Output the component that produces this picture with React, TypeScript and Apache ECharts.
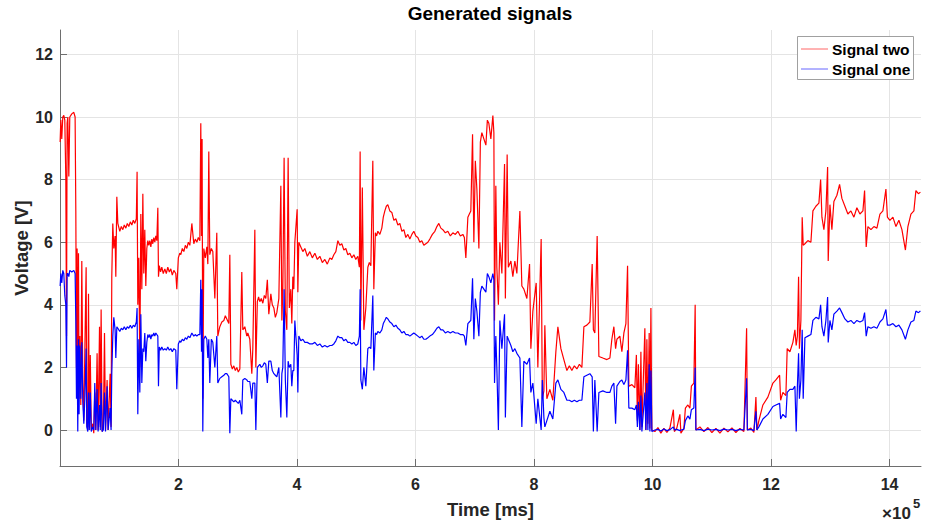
import React, { useEffect, useRef } from "react";
import * as echarts from "echarts";

const TIME_MS = [
  200, 1400, 3000, 4700, 6400, 8100, 9800, 11000, 12000, 13200,
  14900, 16500, 19900, 23300, 25500, 26700, 27800, 28900, 30000, 31200,
  32200, 33400, 35100, 36800, 38500, 40200, 41900, 44100, 45200, 46900,
  48100, 49500, 51100, 52800, 55400, 57000, 58700, 60400, 62600, 64300,
  66700, 68000, 69400, 71100, 73100, 75100, 76800, 79500, 81200, 84600,
  86200, 87400, 89100, 90800, 93000, 94200, 95900, 97600, 100900, 103500,
  106000, 108500, 111100, 113600, 116100, 118700, 121200, 123700, 126200, 128800,
  130100, 131300, 133000, 134700, 136400, 138100, 139800, 141400, 143100, 144800,
  146500, 148200, 149900, 151600, 153300, 155000, 156600, 158300, 160000, 161700,
  163400, 165100, 166200, 167600, 169700, 171800, 174300, 176900, 179400, 181900,
  184500, 187000, 189500, 192100, 195400, 197100, 199700, 202200, 203900, 206400,
  209000, 211500, 214000, 216600, 219100, 222500, 225800, 228300, 230900, 233400,
  236000, 237600, 238800, 239800, 241000, 242700, 245200, 247800, 249500, 251100,
  252800, 255400, 257900, 261300, 264600, 266300, 269700, 273100, 276500, 279000,
  281500, 284900, 286600, 288300, 290800, 293300, 295900, 298400, 300900, 303500,
  306800, 308500, 311900, 315300, 317000, 320300, 323700, 325400, 328800, 330500,
  333000, 335100, 337200, 339700, 342300, 344800, 347300, 349900, 352400, 355800,
  358300, 360900, 363400, 365900, 369300, 372700, 374400, 376000, 378200, 380300,
  382800, 385000, 387000, 389500, 391200, 392900, 394600, 396300, 400200, 401400,
  403000, 406400, 409800, 413200, 417400, 421600, 425800, 430100, 434300, 438500,
  442700, 446900, 451100, 455400, 458700, 462100, 465500, 468900, 472200, 475600,
  479000, 482400, 485700, 489100, 492500, 495900, 499200, 502600, 505200, 506500,
  507700, 510200, 512800, 516100, 519500, 522000, 524600, 527900, 529600, 532200,
  534300, 536400, 539800, 543100, 545600, 548200, 550700, 553200, 556600, 560000,
  563400, 566800, 570100, 573500, 576900, 580300, 583600, 587000, 590400, 593800,
  597100, 600500, 603900, 607300, 610600, 614000, 617400, 620800, 624100, 628400,
  632600, 636000, 639300, 642700, 646100, 650300, 654500, 658700, 663000, 667200,
  671400, 675600, 679800, 682400, 684900, 688300, 690800, 693300, 696200, 698400,
  700900, 703500, 706900, 709400, 711900, 715300, 718700, 721200, 723700, 727100,
  730500, 732200, 733300, 735500, 737200, 739800, 742300, 745700, 750200, 751600,
  754600, 756600, 760900, 764200, 767600, 771000, 776100, 779400, 782800, 787900,
  792400, 794600, 798000, 803600, 806400, 812000, 814000, 816600, 818200, 821600,
  826700, 831700, 836800, 840200, 845300, 850300, 855400, 859600, 863800, 868000,
  872300, 876500, 880700, 884100, 889100, 894200, 898100, 900100, 902600, 906500,
  909400, 916100, 922900, 928000, 931300, 934700, 937600, 939800, 944800, 948200,
  951600, 955000, 957800, 960000, 965100, 970100, 972700, 974400, 976100, 978600,
  980300, 982000, 987000, 988700, 990400, 992100, 994300, 995500, 997200, 998800,
  1003900, 1009000, 1014000, 1019100, 1024200, 1029200, 1035100, 1036800, 1041000, 1046100,
  1047800, 1052800, 1055400, 1059600, 1063000, 1065500, 1069700, 1071900, 1073100, 1079900,
  1086600, 1093400, 1100100, 1106900, 1113600, 1120400, 1127100, 1133900, 1140600, 1147400,
  1154100, 1158700, 1160000, 1165900, 1171000, 1174400, 1176100, 1179400, 1186200, 1194600,
  1203100, 1208100, 1214400, 1216100, 1219900, 1225000, 1227200, 1231800, 1236800, 1240200,
  1242400, 1244400, 1246400, 1247800, 1250300, 1252500, 1254200, 1257100, 1262100, 1267200,
  1270600, 1275600, 1280700, 1283600, 1285800, 1289100, 1292500, 1295400, 1296400, 1299300,
  1302600, 1306000, 1311100, 1315600, 1319500, 1324600, 1329600, 1334700, 1339800, 1344800,
  1349900, 1355000, 1357800, 1360500, 1363400, 1368500, 1373500, 1378600, 1383700, 1388700,
  1393800, 1396300, 1400500, 1405600, 1410700, 1415700, 1420800, 1426700, 1430900, 1436000,
  1441000, 1444400, 1448600, 1452000,
];

const SIGNAL_TWO = [
  9.2, 9.9, 9.3, 10.0, 10.05, 9.9, 8.05, 3.0, 9.8, 10.0,
  8.1, 10.0, 10.1, 10.15, 10.0, 7.0, 2.0, 5.8, 0.5, 5.65,
  1.0, 3.0, 0.8, 5.4, 1.5, 0.3, 2.5, 5.2, 0.2, 0.0,
  4.35, 0.1, 2.4, 0.0, 0.2, -0.1, 1.2, 0.0, 2.45, 0.0,
  3.3, 0.1, 3.85, -0.05, 0.1, 3.1, 0.0, 1.6, 0.0, 1.8,
  0.1, 4.9, 6.6, 5.8, 6.2, 4.9, 7.45, 6.6, 6.35, 6.5,
  6.4, 6.55, 6.45, 6.6, 6.5, 6.65, 6.55, 6.7, 6.6, 6.75,
  8.25, 4.0, 5.5, 2.0, 6.9, 4.5, 7.55, 5.0, 6.4, 4.6,
  5.8, 6.05, 5.9, 6.05, 5.85, 6.1, 5.95, 6.15, 6.0, 6.2,
  6.05, 7.1, 4.9, 5.25, 5.05, 5.2, 5.0, 5.15, 5.0, 5.2,
  5.05, 5.15, 4.95, 5.1, 5.0, 4.5, 5.5, 5.65, 5.6, 5.8,
  5.7, 5.9, 5.8, 6.0, 5.9, 6.6, 5.95, 6.1, 6.0, 6.15,
  6.05, 9.8, 6.2, 9.3, 1.0, 5.8, 5.5, 5.85, 5.3, 8.9,
  5.6, 5.8, 5.7, 4.2, 6.3, 3.0, 3.3, 3.45, 3.5, 3.65,
  3.55, 3.4, 5.6, 2.1, 1.95, 2.05, 1.9, 2.0, 1.85, 1.95,
  5.05, 3.2, 3.3, 3.0, 3.1, 2.9, 1.8, 2.6, 6.4, 2.0,
  4.1, 4.25, 4.1, 4.2, 4.05, 4.3, 4.2, 4.8, 3.7, 4.35,
  4.0, 3.9, 3.6, 3.75, 4.2, 7.8, 3.5, 4.4, 8.7, 3.8,
  3.2, 8.7, 3.9, 4.5, 3.4, 4.9, 4.5, 6.0, 7.05, 4.4,
  6.0, 5.85, 5.7, 5.8, 5.55, 5.7, 5.5, 5.65, 5.45, 5.55,
  5.35, 5.45, 5.3, 5.5, 5.45, 5.6, 5.7, 6.05, 5.9, 5.95,
  5.75, 5.8, 5.6, 5.65, 5.5, 5.6, 5.45, 5.55, 5.2, 8.9,
  3.5, 7.75, 3.2, 3.9, 5.2, 5.35, 5.25, 8.6, 4.5, 6.3,
  6.2, 6.35, 6.25, 6.45, 6.8, 7.0, 7.15, 7.2, 7.0, 6.95,
  6.7, 6.75, 6.55, 6.6, 6.35, 6.4, 6.15, 6.25, 6.1, 6.25,
  6.35, 6.2, 6.15, 6.0, 6.05, 5.9, 5.95, 6.0, 6.1, 6.25,
  6.35, 6.5, 6.6, 6.45, 6.4, 6.3, 6.35, 6.2, 6.3, 6.25,
  6.35, 6.2, 6.25, 6.15, 5.5, 6.8, 6.9, 7.0, 9.45, 6.0,
  8.6, 7.7, 5.8, 9.2, 9.5, 9.3, 9.1, 9.9, 9.8, 9.3,
  10.05, 9.5, 3.5, 7.8, 5.2, 4.0, 6.0, 5.0, 8.5, 4.2,
  8.8, 5.2, 5.4, 4.9, 5.4, 5.0, 7.0, 4.6, 4.5, 4.2,
  5.3, 2.6, 3.8, 4.7, 2.0, 6.1, 1.0, 1.25, 3.35, 1.0,
  1.3, 0.95, 2.5, 3.3, 2.6, 2.25, 1.9, 2.05, 1.9, 2.05,
  1.95, 2.1, 2.0, 3.3, 3.35, 3.45, 5.3, 3.2, 3.1, 6.2,
  2.35, 2.3, 2.25, 2.3, 2.9, 3.3, 2.6, 2.9, 3.0, 2.5,
  3.1, 3.4, 5.25, 1.4, 1.45, 1.35, 2.4, 0.3, 2.1, 0.0,
  2.5, 0.1, 3.25, 0.0, 2.9, 0.2, 3.1, 0.05, 3.9, 0.0,
  -0.05, 0.08, -0.1, 0.05, -0.08, 0.06, 0.65, -0.05, 0.07, 0.5,
  -0.1, 0.05, 0.7, 0.8, 0.7, 1.4, 1.5, 4.0, 0.0, 0.1,
  -0.05, 0.08, -0.08, 0.05, -0.1, 0.06, -0.06, 0.07, -0.08, 0.05,
  -0.05, 3.25, 0.0, 0.06, -0.08, 1.05, 0.0, 0.3, 0.8, 1.05,
  1.5, 1.6, 1.75, 0.95, 1.2, 1.1, 2.6, 2.5, 2.8, 3.2,
  2.7, 3.0, 4.9, 2.6, 3.5, 6.8, 5.9, 5.95, 6.05, 6.0,
  7.0, 7.15, 7.25, 8.0, 6.8, 6.4, 7.0, 8.4, 5.4, 7.2,
  6.4, 7.3, 7.5, 7.85, 7.4, 7.15, 6.9, 7.0, 6.8, 7.1,
  6.9, 7.0, 7.65, 5.85, 6.5, 6.4, 6.5, 6.45, 6.9, 7.0,
  7.7, 6.8, 6.7, 6.8, 6.5, 6.7, 6.4, 5.75, 6.5, 6.9,
  7.0, 7.65, 7.55, 7.6,
];

const SIGNAL_ONE = [
  4.6, 5.0, 4.7, 5.1, 5.0, 4.3, 4.0, 2.0, 5.0, 5.0,
  4.9, 5.1, 5.05, 5.1, 5.0, 3.5, 1.0, 2.7, -0.05, 2.9,
  0.5, 2.7, 1.0, 2.8, 0.9, 0.2, 1.0, 2.6, 0.1, -0.05,
  1.2, 0.0, 1.2, -0.05, 0.1, 0.0, 1.5, 0.0, 1.3, -0.05,
  0.8, 0.0, 1.5, -0.05, 0.0, 1.2, -0.05, 1.4, 0.0, 0.7,
  0.0, 1.8, 3.0, 3.6, 3.2, 2.3, 3.3, 3.25, 3.15, 3.25,
  3.2, 3.3, 3.2, 3.3, 3.25, 3.35, 3.25, 3.35, 3.3, 3.45,
  3.9, 0.5, 2.9, 1.2, 3.7, 1.5, 2.6, 2.5, 3.1, 2.2,
  2.8, 3.05, 2.95, 3.05, 2.9, 3.05, 3.0, 3.1, 3.0, 3.1,
  3.05, 3.0, 1.4, 2.65, 2.55, 2.65, 2.55, 2.6, 2.55, 2.65,
  2.55, 2.6, 2.5, 2.6, 2.55, 1.3, 2.75, 2.85, 2.8, 2.9,
  2.85, 2.95, 2.9, 3.0, 2.95, 3.1, 3.0, 3.05, 3.0, 3.05,
  3.05, 4.8, 2.5, 4.5, -0.05, 2.9, 3.0, 2.9, 2.3, 2.9,
  1.5, 2.9, 2.8, 2.0, 3.0, 1.5, 1.65, 1.7, 1.75, 1.8,
  1.8, 1.7, -0.1, 1.0, 0.95, 0.9, 0.95, 0.9, 0.85, 0.95,
  0.5, 1.6, 1.65, 1.6, 1.55, 1.55, 1.0, 1.5, 1.5, 0.0,
  2.0, 2.05, 2.1, 2.0, 2.05, 2.15, 2.1, 1.5, 2.2, 2.2,
  1.9, 1.8, 1.75, 1.7, 2.0, 0.4, 1.8, 2.0, 4.5, 1.6,
  0.4, 2.2, 2.0, 2.1, 1.4, 1.9, 1.9, 3.5, 2.4, 1.2,
  3.0, 2.85, 2.9, 2.8, 2.8, 2.75, 2.75, 2.8, 2.7, 2.75,
  2.65, 2.7, 2.65, 2.7, 2.7, 2.75, 2.85, 3.0, 2.95, 2.95,
  2.85, 2.9, 2.8, 2.8, 2.75, 2.8, 2.7, 2.75, 3.0, 4.5,
  1.6, 1.3, 2.0, 1.4, 2.6, 2.65, 2.6, 4.3, 1.9, 3.1,
  3.05, 3.15, 3.1, 3.2, 3.4, 3.5, 3.6, 3.55, 3.45, 3.4,
  3.3, 3.35, 3.25, 3.2, 3.1, 3.15, 3.05, 3.05, 3.0, 3.05,
  3.1, 3.05, 3.0, 2.95, 3.0, 2.9, 2.9, 2.95, 3.0, 3.05,
  3.15, 3.25, 3.3, 3.2, 3.2, 3.1, 3.15, 3.1, 3.15, 3.1,
  3.1, 3.05, 3.05, 3.0, 2.7, 3.4, 3.45, 3.5, 4.85, 2.9,
  4.2, 3.8, 3.0, 4.4, 4.6, 4.5, 4.4, 5.0, 4.9, 4.7,
  5.0, 4.8, 1.5, 3.0, 2.0, 0.0, 3.5, 2.6, 3.7, 0.4,
  3.0, 2.9, 2.7, 2.5, 2.6, 2.45, 2.3, 0.1, 2.2, 2.1,
  2.3, 1.2, 1.5, 0.2, 1.0, 0.0, 1.6, 0.4, 0.1, 0.3,
  0.6, 0.35, 1.5, 1.6, 1.3, 1.2, 0.95, 0.95, 0.9, 0.95,
  0.9, 0.95, 0.95, 1.7, 1.75, 1.8, 1.7, -0.05, 1.6, -0.05,
  1.2, 1.25, 1.2, 1.2, 1.4, 1.5, 0.2, 1.4, 1.55, 1.6,
  1.45, 1.6, 2.55, 0.7, 0.7, 0.65, 0.8, 0.1, 0.9, 0.0,
  1.1, -0.05, 1.2, 0.0, 1.5, 0.0, 2.1, -0.05, 1.9, -0.05,
  0.0, 0.02, -0.03, 0.03, -0.02, 0.01, 0.1, 0.0, 0.02, -0.02,
  0.0, 0.02, 0.3, 0.45, 0.35, 0.65, 0.7, 2.0, 0.0, 0.02,
  -0.02, 0.03, 0.0, 0.02, -0.02, 0.03, 0.0, 0.02, -0.02, 0.02,
  0.0, 1.65, 0.0, 0.02, -0.02, 0.6, 0.0, 0.1, 0.35, 0.5,
  0.75, 0.8, 0.85, 0.35, 0.5, 0.4, 1.2, 1.3, 1.3, 1.4,
  -0.05, 1.4, 2.45, 1.0, 1.6, 3.2, 1.0, 2.95, 3.0, 3.05,
  3.5, 3.6, 3.55, 4.0, 3.3, 3.0, 3.5, 4.25, 2.8, 3.5,
  3.2, 3.7, 3.8, 3.9, 3.75, 3.55, 3.45, 3.5, 3.4, 3.5,
  3.45, 3.5, 3.75, 3.0, 3.3, 3.25, 3.3, 3.25, 3.45, 3.55,
  3.85, 3.35, 3.35, 3.4, 3.3, 3.35, 3.2, 2.9, 3.2, 3.45,
  3.5, 3.8, 3.75, 3.8,
];

const SERIES_NAMES = ["Signal two", "Signal one"];
const SERIES_COLORS = ["#ff0000", "#0000ff"];
const X_TICKS = [200000, 400000, 600000, 800000, 1000000, 1200000, 1400000];
const Y_TICKS = [0, 2, 4, 6, 8, 10, 12];
const X_MIN = 0;
const X_MAX = 1453000;
const Y_MIN = -1.15;
const Y_MAX = 12.78;
const X_EXPONENT = 5;

const FONT = "'Liberation Sans', Arial, Helvetica, sans-serif";
const AXIS_COLOR = "#6e6e6e";
const GRID_COLOR = "#e4e4e4";
const LABEL_COLOR = "#262626";

export default function App() {
  const ref = useRef<HTMLDivElement>(null);

  useEffect(() => {
    if (!ref.current) return;
    const chart = echarts.init(ref.current, null, { renderer: "svg" });
    const n = Math.min(TIME_MS.length, SIGNAL_TWO.length, SIGNAL_ONE.length);
    const two: number[][] = [];
    const one: number[][] = [];
    for (let i = 0; i < n; i++) {
      two.push([TIME_MS[i], SIGNAL_TWO[i]]);
      one.push([TIME_MS[i], SIGNAL_ONE[i]]);
    }
    const scale = Math.pow(10, X_EXPONENT);

    const legendX = 797.5;
    const legendY = 36.5;
    const legendRows = [49, 69];

    chart.setOption({
      animation: false,
      backgroundColor: "#ffffff",
      textStyle: { fontFamily: FONT },
      title: {
        text: "Generated signals",
        left: 490,
        textAlign: "center",
        top: 4,
        padding: 0,
        textStyle: { fontSize: 19, fontWeight: "bold", color: "#000000", fontFamily: FONT },
      },
      grid: { left: 60, right: 5, top: 30, bottom: 61, containLabel: false, outerBoundsMode: "none" },
      xAxis: {
        type: "value",
        min: X_MIN,
        max: X_MAX,
        name: "Time [ms]",
        nameLocation: "middle",
        nameGap: 34,
        nameMoveOverlap: false,
        nameTextStyle: { fontSize: 18.5, fontWeight: "bold", color: LABEL_COLOR, fontFamily: FONT },
        axisLine: { show: true, onZero: false, lineStyle: { color: AXIS_COLOR, width: 1 } },
        axisTick: { show: true, inside: true, length: 7, customValues: X_TICKS, lineStyle: { color: AXIS_COLOR } },
        axisLabel: {
          customValues: X_TICKS,
          formatter: (v: number) => String(Math.round(v / scale)),
          margin: 10,
          fontSize: 16,
          fontWeight: "bold",
          color: LABEL_COLOR,
          fontFamily: FONT,
        },
        splitLine: { show: true, lineStyle: { color: GRID_COLOR, width: 1 } },
      },
      yAxis: {
        type: "value",
        min: Y_MIN,
        max: Y_MAX,
        name: "Voltage [V]",
        nameLocation: "middle",
        nameGap: 29,
        nameMoveOverlap: false,
        nameTextStyle: { fontSize: 18.5, fontWeight: "bold", color: LABEL_COLOR, fontFamily: FONT },
        axisLine: { show: true, onZero: false, lineStyle: { color: AXIS_COLOR, width: 1 } },
        axisTick: { show: true, inside: true, length: 7, customValues: Y_TICKS, lineStyle: { color: AXIS_COLOR } },
        axisLabel: {
          customValues: Y_TICKS,
          margin: 7,
          fontSize: 16,
          fontWeight: "bold",
          color: LABEL_COLOR,
          fontFamily: FONT,
        },
        splitLine: { show: true, lineStyle: { color: GRID_COLOR, width: 1 } },
      },
      graphic: [
        {
          type: "text",
          left: 882,
          top: 505,
          style: { text: "\u00d710", fontSize: 17, fontWeight: "bold", fill: LABEL_COLOR, fontFamily: FONT },
        },
        {
          type: "text",
          left: 913,
          top: 497,
          style: { text: String(X_EXPONENT), fontSize: 13, fontWeight: "bold", fill: LABEL_COLOR, fontFamily: FONT },
        },
        {
          type: "group",
          z: 100,
          children: [
            {
              type: "rect",
              z: 100,
              shape: { x: legendX, y: legendY, width: 116, height: 43 },
              style: { fill: "#ffffff", stroke: "#a0a0a0", lineWidth: 1 },
            },
            ...SERIES_NAMES.flatMap((name, i) => [
              {
                type: "line",
                z: 101,
                shape: { x1: 801, y1: legendRows[i], x2: 828, y2: legendRows[i] },
                style: { stroke: SERIES_COLORS[i], lineWidth: 1, opacity: 0.6 },
              },
              {
                type: "text",
                z: 101,
                x: 832,
                y: legendRows[i],
                style: {
                  text: name,
                  fontSize: 15.5,
                  fontWeight: "bold",
                  fill: "#000000",
                  fontFamily: FONT,
                  verticalAlign: "middle",
                  align: "left",
                },
              },
            ]),
          ],
        },
      ],
      series: [
        {
          name: SERIES_NAMES[0],
          type: "line",
          data: two,
          symbol: "none",
          showSymbol: false,
          silent: true,
          z: 2,
          lineStyle: { color: SERIES_COLORS[0], width: 1.2 },
          itemStyle: { color: SERIES_COLORS[0] },
        },
        {
          name: SERIES_NAMES[1],
          type: "line",
          data: one,
          symbol: "none",
          showSymbol: false,
          silent: true,
          z: 3,
          lineStyle: { color: SERIES_COLORS[1], width: 1.2 },
          itemStyle: { color: SERIES_COLORS[1] },
        },
      ],
    });
    return () => chart.dispose();
  }, []);

  return (
    <div
      ref={ref}
      style={{ position: "fixed", left: 0, top: 0, width: 926, height: 527, background: "#ffffff" }}
    />
  );
}
